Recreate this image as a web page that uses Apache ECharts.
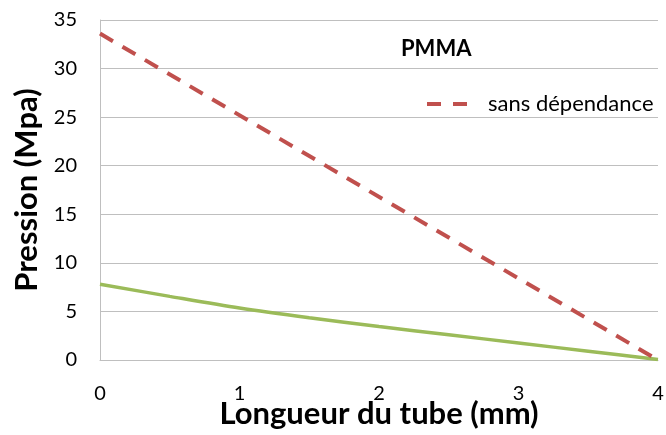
<!DOCTYPE html>
<html>
<head>
<meta charset="utf-8">
<script src="https://cdn.jsdelivr.net/npm/echarts@6/dist/echarts.min.js"></script>
<style>
  html, body { margin: 0; padding: 0; background: #fff; }
  #chart { width: 666px; height: 435px; }
</style>
</head>
<body>
<div id="chart"></div>
<script>
// Pressure along the tube (PMMA)
const xTicks = [0, 1, 2, 3, 4];
const yTicks = [0, 5, 10, 15, 20, 25, 30, 35];

// Constant-viscosity case (straight drop)
const sansDependanceX = [0, 4];
const sansDependanceY = [33.6, 0];

// Pressure-dependent case
const avecDependanceX = [0, 0.5, 1, 1.5, 2, 2.5, 3, 3.5, 4];
const avecDependanceY = [7.8, 6.55, 5.35, 4.35, 3.45, 2.6, 1.75, 0.9, 0.05];

const pairs = (xs, ys) => xs.map((x, i) => [x, ys[i]]);

const font = 'Lato, "Open Sans", sans-serif';
const chart = echarts.init(document.getElementById('chart'), null, { renderer: 'canvas' });

chart.setOption({
  animation: false,
  backgroundColor: '#ffffff',
  textStyle: { fontFamily: font },
  title: {
    text: 'PMMA',
    left: 396,
    top: 33,
    textStyle: { fontFamily: font, fontWeight: 'bold', fontSize: 22, color: '#000' }
  },
  legend: {
    data: ['sans dépendance'],
    left: 422,
    top: 88,
    icon: 'path://M0,0h14v4h-14z M26,0h14v4h-14z',
    itemWidth: 40,
    itemHeight: 4,
    textStyle: { fontFamily: font, fontSize: 22, color: '#000', padding: [0, 0, 0, 16] }
  },
  grid: { left: 100, right: 8, top: 20, bottom: 75, containLabel: false, outerBoundsMode: 'none' },
  xAxis: {
    type: 'value',
    min: xTicks[0],
    max: xTicks[xTicks.length - 1],
    interval: 1,
    name: 'Longueur du tube (mm)',
    nameLocation: 'middle',
    nameGap: 38,
    nameMoveOverlap: false,
    nameTextStyle: { fontFamily: font, fontWeight: 'bold', fontSize: 31, color: '#000' },
    axisLine: { show: true, lineStyle: { color: '#BFBFBF', width: 1 } },
    axisTick: { show: false },
    splitLine: { show: false },
    axisLabel: { fontFamily: font, fontSize: 20, color: '#000', margin: 24 }
  },
  yAxis: {
    type: 'value',
    min: yTicks[0],
    max: yTicks[yTicks.length - 1],
    interval: 5,
    name: 'Pression (Mpa)',
    nameLocation: 'middle',
    nameGap: 56,
    nameRotate: 90,
    nameTextStyle: { fontFamily: font, fontWeight: 'bold', fontSize: 31, color: '#000' },
    axisLine: { show: true, lineStyle: { color: '#BFBFBF', width: 1 } },
    axisTick: { show: false },
    splitLine: { show: true, lineStyle: { color: '#BFBFBF', width: 1 } },
    axisLabel: { fontFamily: font, fontSize: 20, color: '#000', margin: 23 }
  },
  series: [
    {
      name: 'sans dépendance',
      type: 'line',
      data: pairs(sansDependanceX, sansDependanceY),
      symbol: 'none',
      lineStyle: { color: '#C0504D', width: 4, type: [15, 11] },
      itemStyle: { color: '#C0504D' },
      z: 3
    },
    {
      name: 'avec dépendance',
      type: 'line',
      data: pairs(avecDependanceX, avecDependanceY),
      symbol: 'none',
      smooth: 0.3,
      lineStyle: { color: '#9BBB59', width: 3.5 },
      itemStyle: { color: '#9BBB59' },
      z: 2
    }
  ]
});
</script>
</body>
</html>
